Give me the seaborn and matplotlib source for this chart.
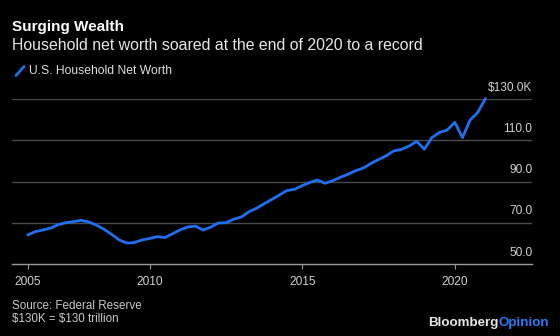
import numpy as np
import pandas as pd
import matplotlib
matplotlib.use("Agg")
import matplotlib.pyplot as plt
import matplotlib.transforms as mtransforms
from matplotlib.lines import Line2D
import seaborn as sns

# ---- data (U.S. household net worth, $ trillions, quarterly 2005Q4-2020Q4) ----
quarters = pd.date_range("2005-12-31", periods=61, freq="QE")
net_worth = [64.2, 65.8, 66.6, 67.5, 69.2, 70.1, 70.6, 71.3, 70.5, 69.0,
             67.0, 64.5, 61.8, 60.3, 60.5, 61.8, 62.5, 63.4, 62.9, 64.8,
             66.7, 68.1, 68.5, 66.6, 68.0, 70.0, 70.1, 71.8, 72.9, 75.4,
             77.1, 79.3, 81.4, 83.5, 85.7, 86.3, 88.1, 89.6, 90.8, 89.2,
             90.5, 92.1, 93.6, 95.3, 96.6, 98.8, 100.7, 102.5, 104.9, 105.6,
             107.2, 109.5, 105.7, 111.3, 113.8, 115.0, 118.7, 111.3, 119.8, 123.5,
             130.2]
y_ticks = [50, 70, 90, 110, 130]
y_labels = ["50.0", "70.0", "90.0", "110.0", r"\$130.0K"]
x_tick_dates = [pd.Timestamp("2005-12-31"), pd.Timestamp("2010-01-01"),
                pd.Timestamp("2015-01-01"), pd.Timestamp("2020-01-01")]
x_labels = ["2005", "2010", "2015", "2020"]
series_name = "U.S. Household Net Worth"

df = pd.DataFrame({"date": quarters, "value": net_worth})

BG = "#000000"
BLUE = "#1f70f0"
FONT = ["Liberation Sans", "DejaVu Sans"]

sns.set_theme(style="dark")
plt.rcParams["font.family"] = FONT

W, H = 560, 336
fig = plt.figure(figsize=(W / 100, H / 100), dpi=100, facecolor=BG)
ax = fig.add_axes([12.3 / W, 1 - 264.3 / H, (532.3 - 12.3) / W, (264.3 - 99) / H])
ax.set_facecolor(BG)

sns.lineplot(data=df, x="date", y="value", ax=ax, color=BLUE, linewidth=2.0,
             clip_on=False, legend=False)

ax.set_ylim(50, 130)
ax.set_xlim(pd.Timestamp("2005-06-30"), pd.Timestamp("2022-07-15"))

# gridlines
for v in y_ticks[1:]:
    ax.axhline(v, color="#4a4a4a", linewidth=1.0, zorder=0)
ax.grid(False)

for s in ["top", "right", "left"]:
    ax.spines[s].set_visible(False)
ax.spines["bottom"].set_color("#9a9a9a")
ax.spines["bottom"].set_linewidth(1.0)

ax.set_yticks([])
ax.set_xticks(x_tick_dates)
ax.set_xticklabels(x_labels)
ax.tick_params(axis="x", colors="#9a9a9a", length=3.5, width=0.8, pad=5,
               labelsize=8.6, labelcolor="#d0d0d0", direction="out", bottom=True)
ax.set_xlabel("")
ax.set_ylabel("")

# y labels above gridlines, right aligned
trans = mtransforms.blended_transform_factory(ax.transAxes, ax.transData)
off = mtransforms.offset_copy(trans, fig=fig, x=0, y=11.5, units="dots")
for v, lab in zip(y_ticks, y_labels):
    ax.text(1.0, v, lab, transform=off, ha="right", va="center",
            fontsize=8.6, color="#d0d0d0", family=FONT)

# titles
fig.text(12 / W, 1 - 26.7 / H, "Surging Wealth", fontsize=11, fontweight="bold",
         color="#ffffff", va="center", ha="left")
fig.text(12 / W, 1 - 45 / H, "Household net worth soared at the end of 2020 to a record",
         fontsize=11.4, color="#e6e6e6", va="center", ha="left")

# legend
fig.add_artist(Line2D([16 / W, 24 / W], [1 - 75.5 / H, 1 - 66.5 / H],
                      color=BLUE, linewidth=2.0))
fig.text(29 / W, 1 - 71 / H, series_name, fontsize=8.7, color="#dcdcdc",
         va="center", ha="left")

# footer
fig.text(12 / W, 1 - 306 / H, "Source: Federal Reserve", fontsize=8.4,
         color="#c8c8c8", va="center", ha="left")
fig.text(12 / W, 1 - 319.3 / H, r"\$130K = \$130 trillion", fontsize=8.4,
         color="#c8c8c8", va="center", ha="left")

t1 = fig.text(427.7 / W, 1 - 323.3 / H, "Bloomberg", fontsize=9.6, fontweight="bold",
              color="#e6e6e6", va="center", ha="left")
fig.canvas.draw()
bb = t1.get_window_extent()
fig.text(bb.x1 / W, 1 - 323.3 / H, "Opinion", fontsize=9.6, fontweight="bold",
         color="#2b7cf2", va="center", ha="left")

fig.savefig("out.png", dpi=100, facecolor=BG)
